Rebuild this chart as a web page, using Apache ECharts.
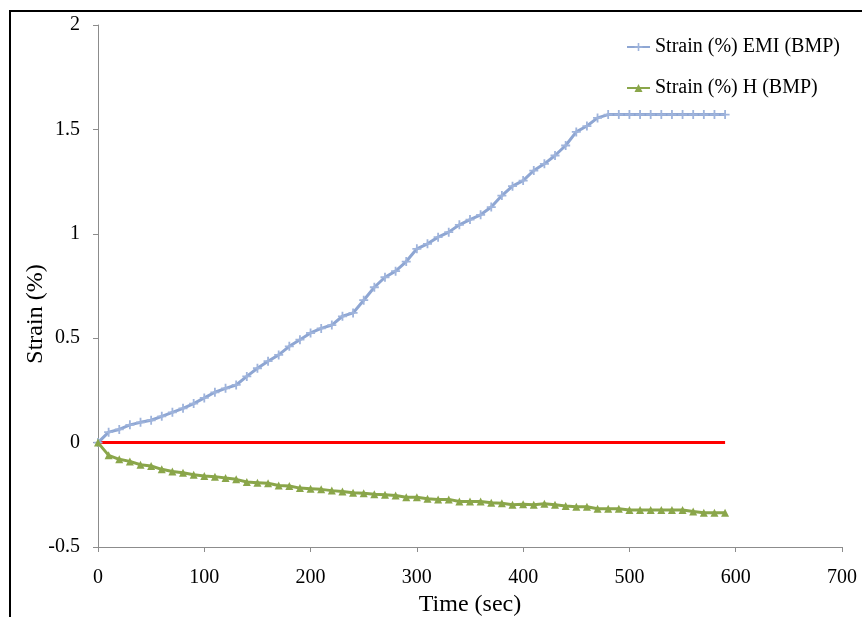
<!DOCTYPE html>
<html>
<head>
<meta charset="utf-8">
<script src="https://cdn.jsdelivr.net/npm/echarts@6/dist/echarts.min.js"></script>
<style>
html,body{margin:0;padding:0;background:#fff;}
#chart{width:862px;height:617px;}
</style>
</head>
<body>
<div id="chart"></div>
<script>
// Time stamps, seconds (one reading every 10 s)
const timeSec = [0,10,20,30,40,50,60,70,80,90,100,110,120,130,140,150,160,170,180,190,
  200,210,220,230,240,250,260,270,280,290,300,310,320,330,340,350,360,370,380,390,
  400,410,420,430,440,450,460,470,480,490,500,510,520,530,540,550,560,570,580,590];

// Strain (%) measured by EMI (BMP)
const strainEMI = [0,0.05,0.063,0.085,0.097,0.107,0.126,0.145,0.164,0.187,
  0.214,0.241,0.26,0.276,0.317,0.356,0.39,0.42,0.461,0.493,
  0.525,0.547,0.563,0.605,0.621,0.682,0.744,0.792,0.821,0.867,
  0.928,0.952,0.984,1.008,1.043,1.068,1.091,1.128,1.183,1.228,
  1.255,1.303,1.335,1.375,1.423,1.488,1.516,1.555,1.571,1.571,
  1.571,1.571,1.571,1.571,1.571,1.571,1.571,1.571,1.571,1.571];

// Strain (%) measured by H (BMP)
const strainH = [0,-0.061,-0.080,-0.090,-0.106,-0.112,-0.128,-0.138,-0.144,-0.154,
  -0.160,-0.163,-0.170,-0.176,-0.189,-0.192,-0.195,-0.205,-0.208,-0.218,
  -0.221,-0.224,-0.230,-0.234,-0.240,-0.243,-0.247,-0.250,-0.253,-0.262,
  -0.262,-0.269,-0.272,-0.272,-0.282,-0.282,-0.282,-0.288,-0.291,-0.298,
  -0.295,-0.298,-0.293,-0.298,-0.304,-0.307,-0.307,-0.317,-0.317,-0.317,
  -0.323,-0.323,-0.323,-0.323,-0.323,-0.323,-0.330,-0.336,-0.336,-0.336];

// Zero reference line
const zeroLine = [[0,0],[590,0]];

const seriesNames = ['Strain (%) EMI (BMP)', 'Strain (%) H (BMP)'];
const xTicks = { min: 0, max: 700, interval: 100 };
const yTicks = { min: -0.5, max: 2, interval: 0.5 };

const pair = (xs, ys) => xs.map((x, i) => [x, ys[i]]);
const plusPath = 'path://M4,0h2v4h4v2h-4v4h-2v-4h-4v-2h4z';
const serif = '"Liberation Serif", "Times New Roman", serif';
const axisGray = '#8c8c8c';

const chart = echarts.init(document.getElementById('chart'), null, { renderer: 'canvas' });
chart.setOption({
  backgroundColor: '#fff',
  animation: false,
  textStyle: { fontFamily: serif },
  graphic: [{
    type: 'rect',
    shape: { x: 10, y: 11, width: 900, height: 700 },
    style: { fill: 'none', stroke: '#000', lineWidth: 2 },
    silent: true
  }],
  grid: { left: 98, right: 20, top: 25, bottom: 70, outerBoundsMode: 'none', containLabel: false },
  legend: {
    data: seriesNames,
    orient: 'vertical',
    left: 626,
    top: 37,
    padding: 0,
    itemWidth: 23,
    itemHeight: 10,
    itemGap: 21,
    textStyle: { fontFamily: serif, fontSize: 20, color: '#000' }
  },
  xAxis: {
    type: 'value',
    min: xTicks.min, max: xTicks.max, interval: xTicks.interval,
    name: 'Time (sec)',
    nameLocation: 'middle',
    nameGap: 46,
    nameMoveOverlap: false,
    nameTextStyle: { fontFamily: serif, fontSize: 24, color: '#000' },
    axisLine: { onZero: false, lineStyle: { color: axisGray, width: 1 } },
    axisTick: { show: true, length: 5, lineStyle: { color: axisGray } },
    axisLabel: { fontFamily: serif, fontSize: 20, color: '#000', margin: 21 },
    splitLine: { show: false }
  },
  yAxis: {
    type: 'value',
    min: yTicks.min, max: yTicks.max, interval: yTicks.interval,
    name: 'Strain (%)',
    nameLocation: 'middle',
    nameGap: 50,
    nameMoveOverlap: false,
    nameTextStyle: { fontFamily: serif, fontSize: 24, color: '#000', padding: [0, 56, 0, 0] },
    axisLine: { show: true, onZero: false, lineStyle: { color: axisGray, width: 1 } },
    axisTick: { show: true, length: 5, lineStyle: { color: axisGray } },
    axisLabel: { fontFamily: serif, fontSize: 20, color: '#000', margin: 18 },
    splitLine: { show: false }
  },
  series: [
    {
      name: seriesNames[0],
      type: 'line',
      data: pair(timeSec, strainEMI),
      symbol: plusPath,
      symbolSize: 9,
      showAllSymbol: true,
      lineStyle: { color: '#8ea6d3', width: 3 },
      itemStyle: { color: '#9fb4dc' },
      z: 3
    },
    {
      name: seriesNames[1],
      type: 'line',
      data: pair(timeSec, strainH),
      symbol: 'triangle',
      symbolSize: 8,
      showAllSymbol: true,
      lineStyle: { color: '#8aa64a', width: 3 },
      itemStyle: { color: '#8aa64a' },
      z: 3
    },
    {
      name: 'zero',
      type: 'line',
      data: zeroLine,
      symbol: 'none',
      lineStyle: { color: '#ff0000', width: 3 },
      z: 2
    }
  ]
});
</script>
</body>
</html>
